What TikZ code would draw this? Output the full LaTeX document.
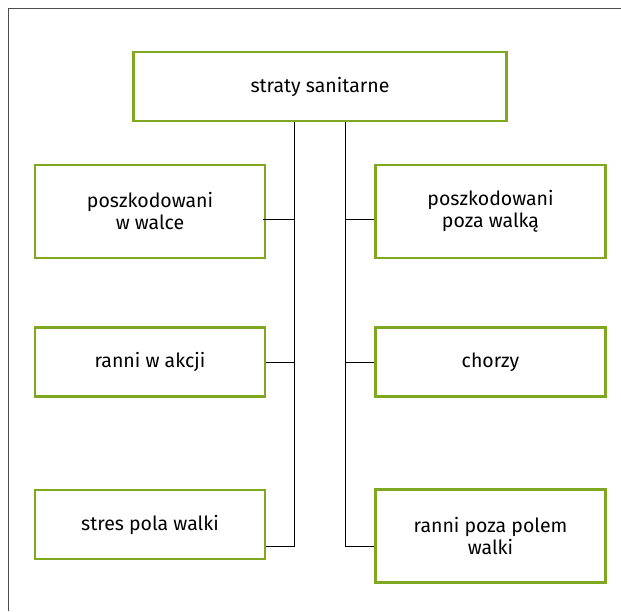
\documentclass[tikz,border=0pt]{standalone}
\usepackage{fontspec}
\setmainfont{Fira Sans}
\usepackage{tikz}
\usetikzlibrary{positioning, calc}
\definecolor{boxgreen}{HTML}{7FA820}
\definecolor{framegray}{HTML}{4D4D4D}

\begin{document}
\begin{tikzpicture}[x=1pt, y=-1pt,
        % Style definitions
        box/.style={
            rectangle,
            draw=boxgreen,
            line width=2.5pt,
            minimum width=230pt,
            minimum height=69pt,
            align=center,
            font=\fontsize{19.5pt}{22pt}\selectfont,
            text=black,
            fill=white
        },
        tallbox/.style={
            box,
            minimum height=93pt
        },
        link/.style={
            draw=black,
            line width=1pt
        }
    ]

        % ==========================================
        % Frame / bounding box
        % ==========================================
        \useasboundingbox (0,0) rectangle (621,611);
        \draw [framegray, line width=1pt] (621,8.5) -- (8.5,8.5) -- (8.5,611);

        % ==========================================
        % Nodes / Blocks Placement
        % ==========================================
        % Top block
        \node (straty) [box, minimum width=373pt] at (320,86.5) {straty sanitarne};

        % Left column
        \node (walka) [tallbox] at (150,211.5) {poszkodowani\\w walce};
        \node (akcja) [box] at (150,362) {ranni w akcji};
        \node (stres) [box] at (150,524.5) {stres pola walki};

        % Right column
        \node (pozawalka) [tallbox] at (490.5,211.5) {poszkodowani\\poza walką};
        \node (chorzy) [box] at (490.5,362) {chorzy};
        \node (pozapolem) [tallbox] at (490.5,536) {ranni poza polem\\walki};

        % Trunk start points under the top block
        \coordinate (trunkL) at ([xshift=-26pt]straty.south);
        \coordinate (trunkR) at ([xshift=25pt]straty.south);

        % ==========================================
        % Connections
        % ==========================================
        % Left trunk
        \draw [link] (trunkL) |- ([yshift=-22pt]stres.east);
        \draw [link] ([shift={(-3.5pt,-7.5pt)}]walka.east) coordinate (walkaJ) -- (walkaJ -| trunkL);
        \draw [link] (akcja.east) -- (akcja.east -| trunkL);

        % Right trunk
        \draw [link] (trunkR) |- ([yshift=-10pt]pozapolem.west);
        \draw [link] ([yshift=-7.5pt]pozawalka.west) -- ([yshift=-7.5pt]pozawalka.west -| trunkR);
        \draw [link] (chorzy.west) -- (chorzy.west -| trunkR);

    \end{tikzpicture}
\end{document}
